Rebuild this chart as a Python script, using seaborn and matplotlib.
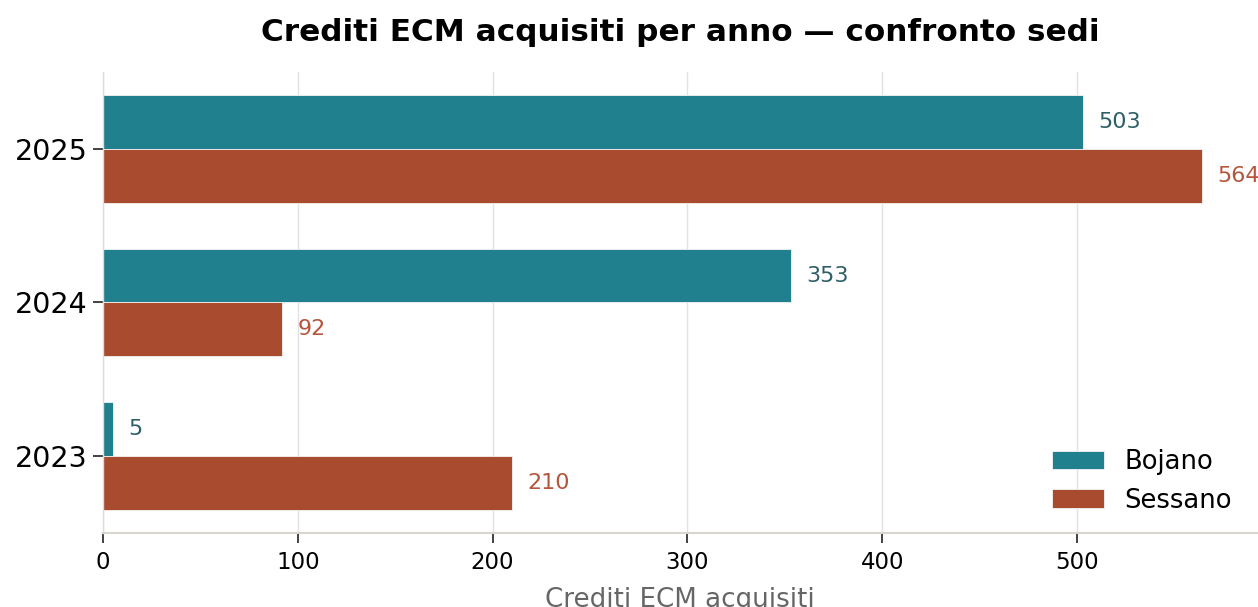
import matplotlib
matplotlib.use("Agg")
import matplotlib.pyplot as plt
import seaborn as sns
import pandas as pd

years = ["2025", "2024", "2023"]
sedi = ["Bojano", "Sessano"]
bojano = [503, 353, 5]
sessano = [564, 92, 210]

bar_colors = ["#21808d", "#a84b2f"]
label_colors = ["#2e5f66", "#b5553b"]

df = pd.DataFrame({
    "Anno": years * 2,
    "Sede": ["Bojano"] * len(years) + ["Sessano"] * len(years),
    "Crediti": bojano + sessano,
})

sns.set_theme(style="white")
plt.rcParams["font.family"] = ["DejaVu Sans"]
plt.rcParams["text.color"] = "black"

fig = plt.figure(figsize=(12.58, 6.07), dpi=100)
ax = fig.add_axes([0.0819, 0.1219, 0.917, 0.7595])

sns.barplot(data=df, y="Anno", x="Crediti", hue="Sede", order=years,
            hue_order=sedi, palette=bar_colors, saturation=1, width=0.7,
            errorbar=None, orient="y", edgecolor="#f4f4f4", linewidth=0.6,
            ax=ax)

for cont, col in zip(ax.containers, label_colors):
    ax.bar_label(cont, padding=11, fontsize=16, color=col)

ax.set_xlim(0, max(bojano + sessano) * 1.05)
ax.set_xticks([0, 100, 200, 300, 400, 500])
ax.xaxis.grid(True, color="#e2e2e2", linewidth=1.0)
ax.set_axisbelow(True)

for s in ["top", "right"]:
    ax.spines[s].set_visible(False)
ax.spines["bottom"].set_color("#d8d6cf")
ax.spines["bottom"].set_linewidth(1.5)
ax.spines["left"].set_color("#dcdcdc")
ax.spines["left"].set_linewidth(1.0)

ax.tick_params(axis="x", labelsize=16.5, length=7, width=1.2, color="#222222",
               labelcolor="black", bottom=True, pad=6)
ax.tick_params(axis="y", labelsize=20.5, length=7, width=1.2, color="#222222",
               labelcolor="black", left=True, pad=4)

ax.set_ylabel("")
ax.set_xlabel("Crediti ECM acquisiti", fontsize=18.8, color="#666666", labelpad=9)
ax.set_title("Crediti ECM acquisiti per anno — confronto sedi",
             fontsize=22.4, fontweight="bold", pad=22, color="black")

leg = ax.legend(loc="lower right", frameon=False, fontsize=18.6,
                handlelength=2.0, borderaxespad=0.55,
                bbox_to_anchor=(1.0, -0.011))
for t in leg.get_texts():
    t.set_color("black")

fig.savefig("out.png", dpi=100)
